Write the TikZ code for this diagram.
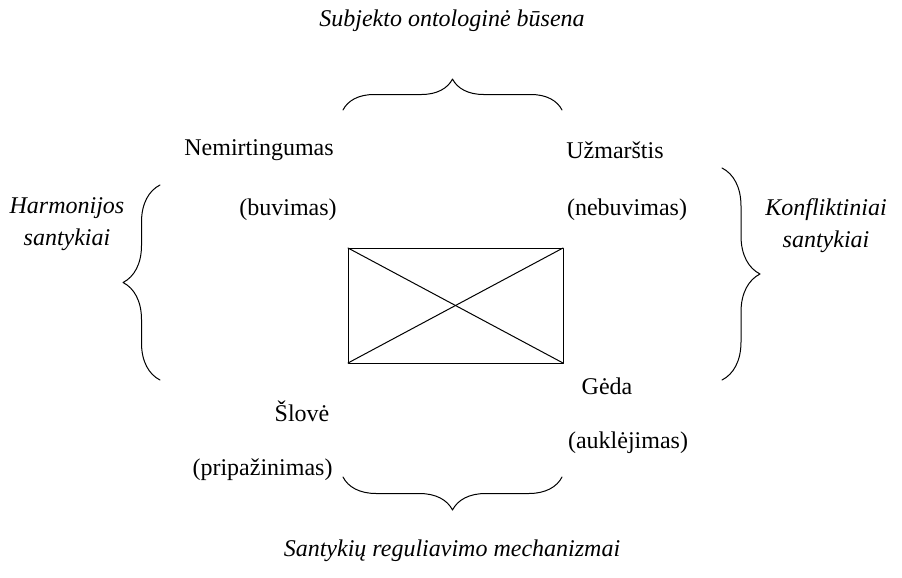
\documentclass[tikz,border=0pt]{standalone}
\usepackage{fontspec}
\setmainfont{Liberation Serif}
\usetikzlibrary{decorations.pathreplacing}
\tikzset{curlybr/.style={decorate,decoration={brace,amplitude=#1}},
lbl/.style={font=\fontsize{24}{32}\selectfont,inner sep=0pt,align=center},
itlbl/.style={lbl,font=\fontsize{24}{32}\selectfont\itshape}}

\begin{document}
\begin{tikzpicture}[line cap=round,line join=round,x=1pt,y=-1pt,line width=1pt]
\useasboundingbox (0,0) rectangle (902,578);
% rectangle with its diagonals
\coordinate (tl) at (348,248);
\coordinate (tr) at (563,248);
\coordinate (br) at (563,363);
\coordinate (bl) at (348,363);
\draw (tl) -- (tr) -- (br) -- (bl) -- cycle;
\draw (tl) -- (br);
\draw (bl) -- (tr);
% braces
\draw [curlybr=31pt] (343,110) -- (562,110);
\draw [curlybr=33pt] (562,477) -- (343,477);
\draw [curlybr=37pt] (160,380) -- (160,185);
\draw [curlybr=38pt] (722,168) -- (722,380);
% labels
\node[itlbl] (ontol) at (452,21) {Subjekto ontologinė būsena};
\node[itlbl] (regul) at (452,551) {Santykių reguliavimo mechanizmai};
\node[itlbl] (harmon) at (67,224) {Harmonijos\\santykiai};
\node[itlbl] (konfl) at (826,226) {Konfliktiniai\\santykiai};
\node[lbl] (nemirt) at (259,150) {Nemirtingumas};
\node[lbl] (buv) at (288,210) {(buvimas)};
\node[lbl] (uzmar) at (615,150) {Užmarštis};
\node[lbl] (nebuv) at (627,210) {(nebuvimas)};
\node[lbl] (slove) at (302,411) {Šlovė};
\node[lbl,anchor=east] (pripaz) at (333,470) {(pripažinimas)};
\node[lbl] (geda) at (607,386) {Gėda};
\node[lbl] (aukl) at (628,443) {(auklėjimas)};
\end{tikzpicture}
\end{document}
